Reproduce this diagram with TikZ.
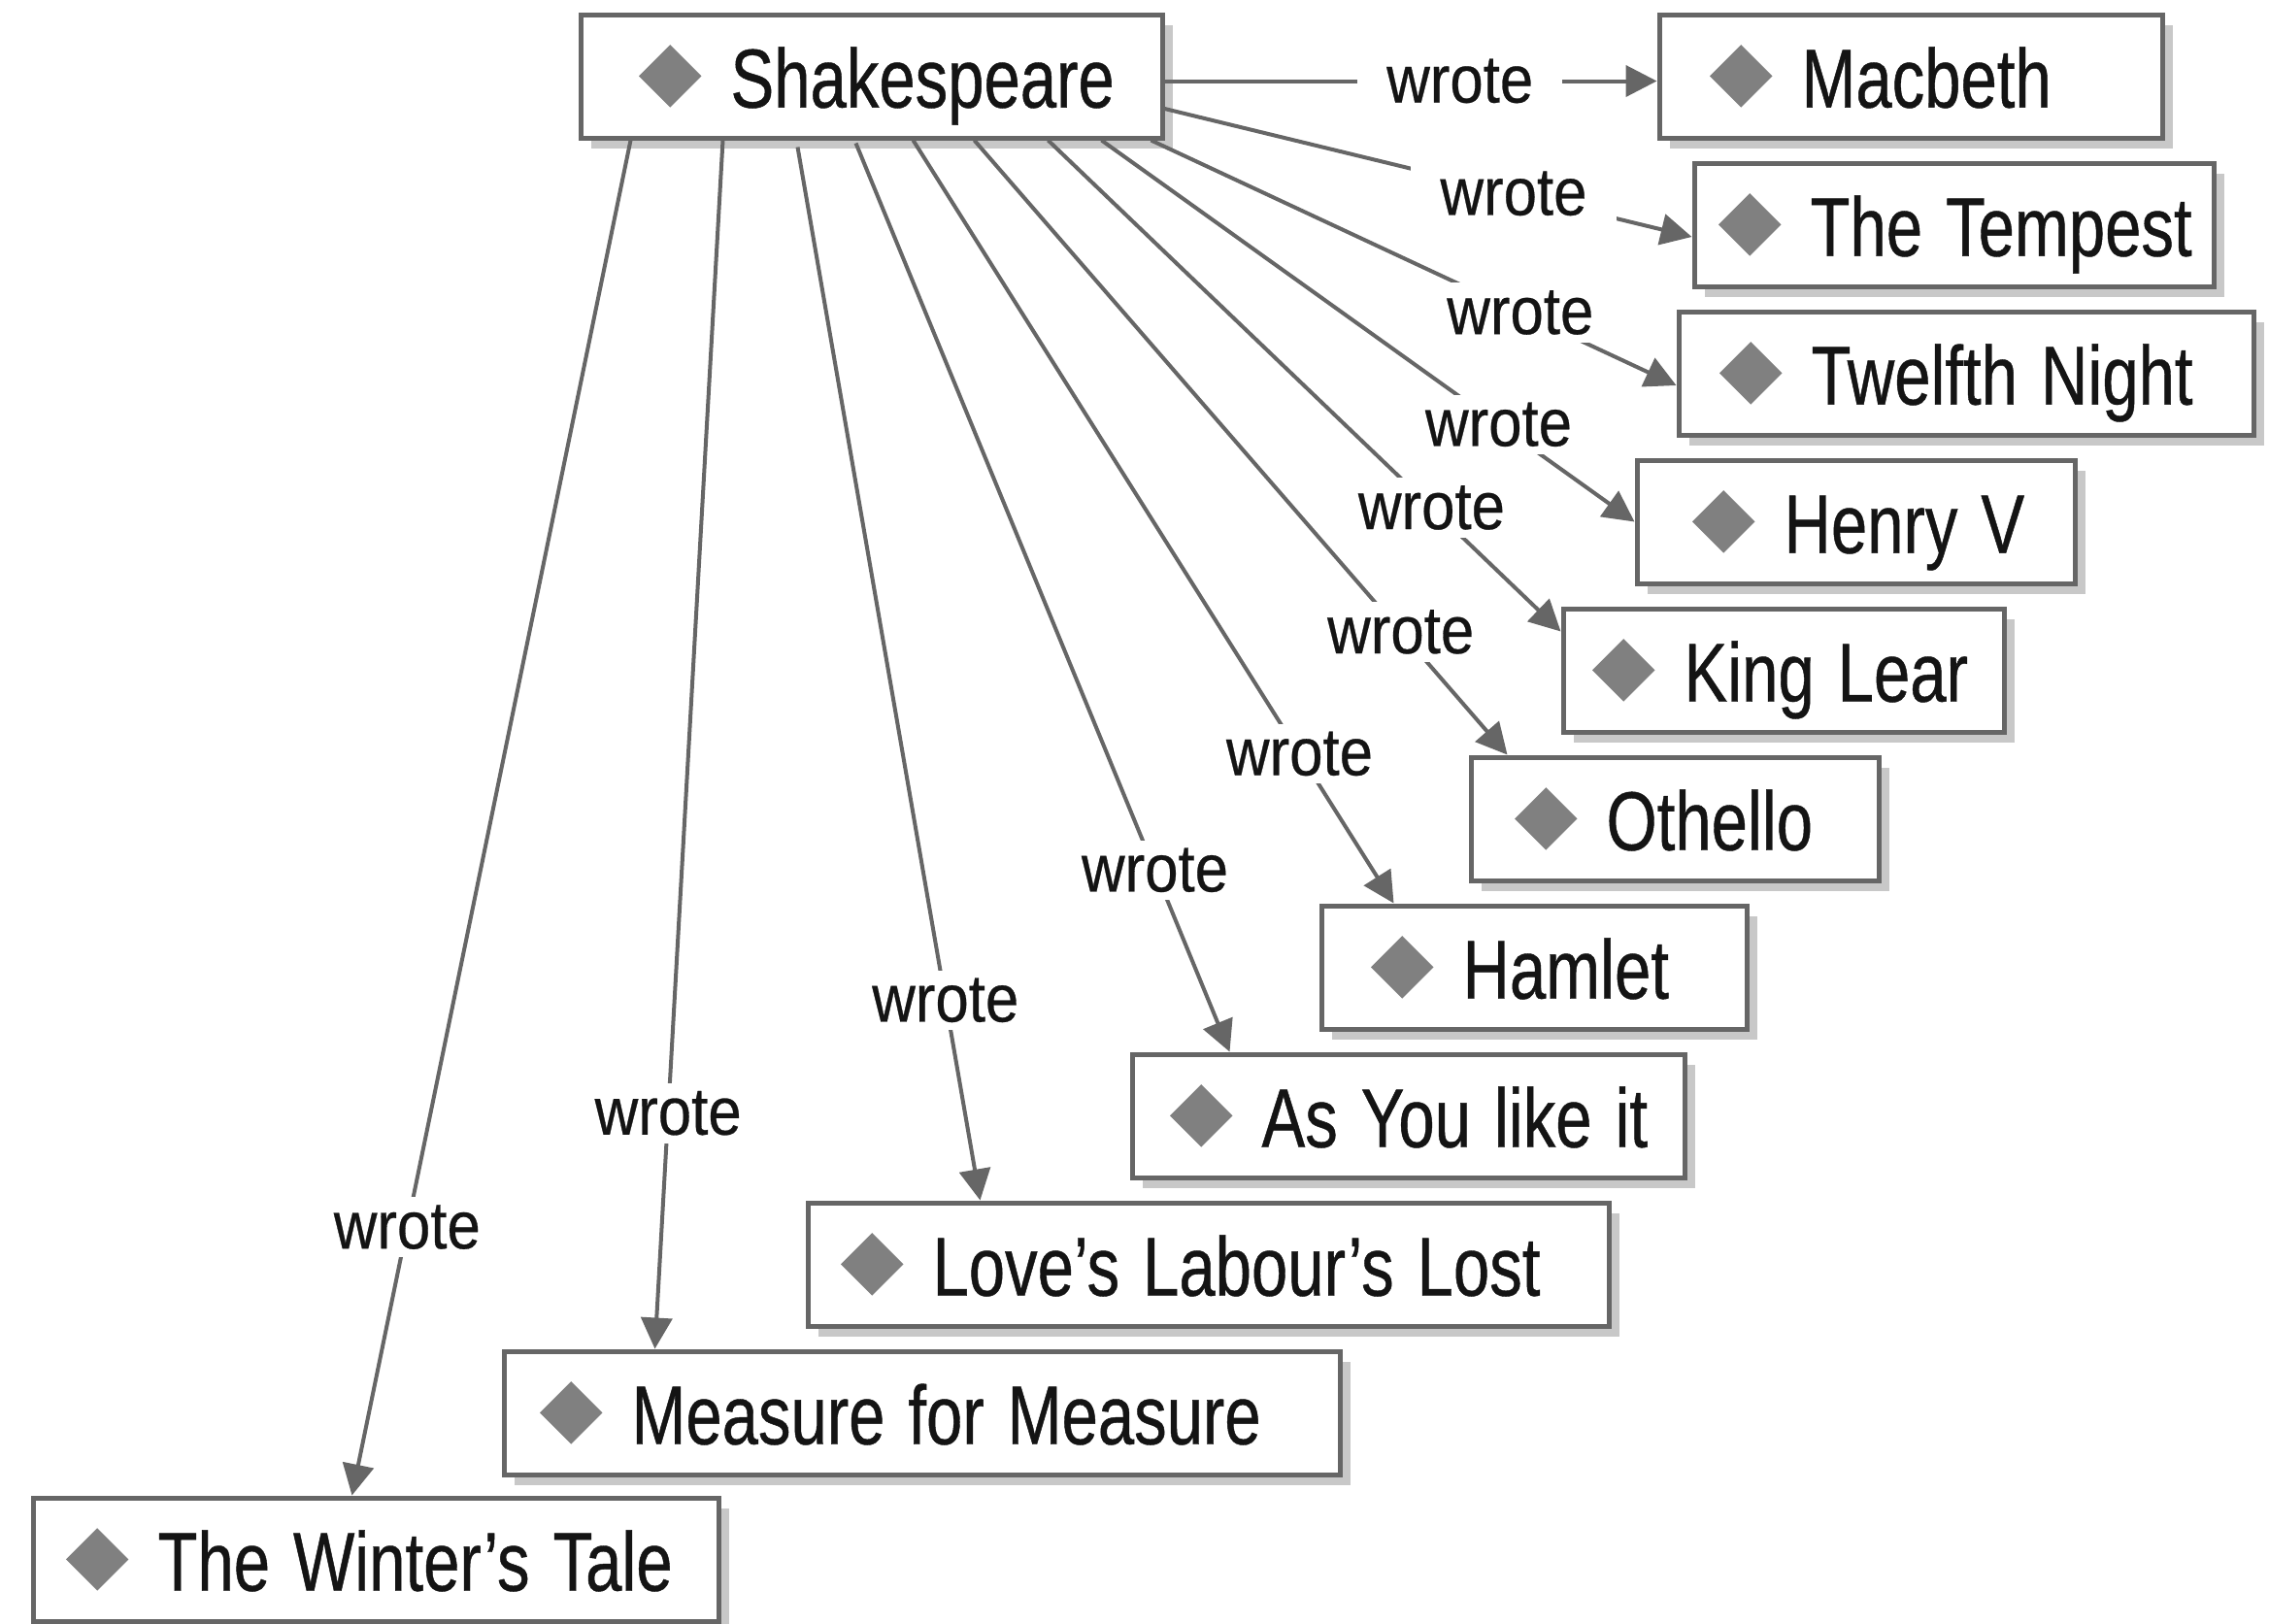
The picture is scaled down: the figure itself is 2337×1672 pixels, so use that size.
\documentclass[tikz,border=0pt]{standalone}
\usepackage{fontspec}
\usepackage{graphicx}
\setmainfont{Liberation Sans}[FakeStretch=0.78,FakeBold=0.5]
\newfontfamily\lblfont{Liberation Sans}[FakeStretch=0.89,FakeBold=0.4]
\usetikzlibrary{arrows.meta,shadows,calc}
\definecolor{edgec}{HTML}{666666}
\definecolor{shadowc}{HTML}{C8C8C8}
\definecolor{diac}{HTML}{808080}
\definecolor{textc}{HTML}{141414}
\newcommand\dia{\rotatebox{45}{\textcolor{diac}{\rule{22.8pt}{22.8pt}}}}
\newcommand\ptitle[1]{\mbox{\spaceskip=12pt plus 0pt minus 0pt\dia\hspace{15pt}#1}}
\begin{document}
\begin{tikzpicture}[x=0.5pt,y=-0.5pt,
  play/.style={draw=edgec, line width=2.5pt, fill=white, rectangle,
    minimum height=63.5pt, inner ysep=0pt, text height=32.2pt, text depth=0pt,
    align=left, text=textc, font=\fontsize{43pt}{43pt}\selectfont,
    drop shadow={shadow xshift=5.5pt, shadow yshift=-5.5pt, fill=shadowc, opacity=1}},
  lbl/.style={fill=white, text=textc, inner xsep=15pt, inner ysep=4pt,
    font=\lblfont\fontsize{34.7pt}{35pt}\selectfont},
  wrote/.style={draw=edgec, line width=2pt, -{Triangle[length=16pt,width=16pt]}}]
\useasboundingbox (0,0) rectangle (2337,1672);

\node[play, text width=239.5pt, inner xsep=30pt]   (S)   at (897.5,78.5)   {\ptitle{Shakespeare}};
\node[play, text width=207pt,   inner xsep=26pt]   (M)   at (1968,78.5)    {\ptitle{Macbeth}};
\node[play, text width=242.5pt, inner xsep=12.5pt] (T)   at (2012.5,231.5) {\ptitle{The Tempest}};
\node[play, text width=254pt,   inner xsep=21pt]   (TN)  at (2025,384.5)   {\ptitle{Twelfth Night}};
\node[play, text width=168.5pt, inner xsep=28.5pt] (H)   at (1911.5,537.5) {\ptitle{Henry V}};
\node[play, text width=197pt,   inner xsep=15pt]   (KL)  at (1837,690.5)   {\ptitle{King Lear}};
\node[play, text width=165pt,   inner xsep=22.5pt] (O)   at (1725,843.5)   {\ptitle{Othello}};
\node[play, text width=168pt,   inner xsep=25.5pt] (Ham) at (1580,996.5)   {\ptitle{Hamlet}};
\node[play, text width=245.5pt, inner xsep=19.5pt] (AY)  at (1450.5,1149.5){\ptitle{As You like it}};
\node[play, text width=378.5pt, inner xsep=17pt]   (LLL) at (1244.5,1302.5){\ptitle{Love’s Labour’s Lost}};
\node[play, text width=393.5pt, inner xsep=18.5pt] (MfM) at (949.5,1455.5) {\ptitle{Measure for Measure}};
\node[play, text width=319pt,   inner xsep=17pt]   (WT)  at (387,1606.5)   {\ptitle{The Winter’s Tale}};

\draw[wrote] ($(S.east)+(0,5)$) -- node[lbl,pos=0.6]{wrote} ($(M.west)+(0,5)$);
\draw[wrote] ($(S.east)+(0,33.5)$) -- node[lbl,pos=0.662]{wrote} ($(T.west)+(0,12.5)$);
\draw[wrote] ($(S.south east)+(-14,0)$) -- node[lbl,pos=0.703]{wrote} ($(TN.west)+(0,12.5)$);
\draw[wrote] ($(S.south west)+(539,0)$) -- node[lbl,pos=0.745]{wrote} (H.west);
\draw[wrote] ($(S.south west)+(484,0)$) -- node[lbl,pos=0.748]{wrote} ($(KL.north west)+(0,26)$);
\draw[wrote] ($(S.south west)+(408,0)$) -- node[lbl,pos=0.80]{wrote} ($(O.north west)+(40,0)$);
\draw[wrote] ($(S.south west)+(345,0)$) -- node[lbl,pos=0.804]{wrote} ($(Ham.north west)+(77,0)$);
\draw[wrote] ($(S.south west)+(286,3)$) -- node[lbl,pos=0.80]{wrote} ($(AY.north west)+(103,0)$);
\draw[wrote] ($(S.south west)+(226,7)$) -- node[lbl,pos=0.81]{wrote} ($(LLL.north west)+(180,0)$);
\draw[wrote] ($(S.south west)+(149,0)$) -- node[lbl,pos=0.805]{wrote} ($(MfM.north west)+(158,0)$);
\draw[wrote] ($(S.south west)+(54,0)$) -- node[lbl,pos=0.802]{wrote} ($(WT.north west)+(331,0)$);
\end{tikzpicture}
\end{document}
